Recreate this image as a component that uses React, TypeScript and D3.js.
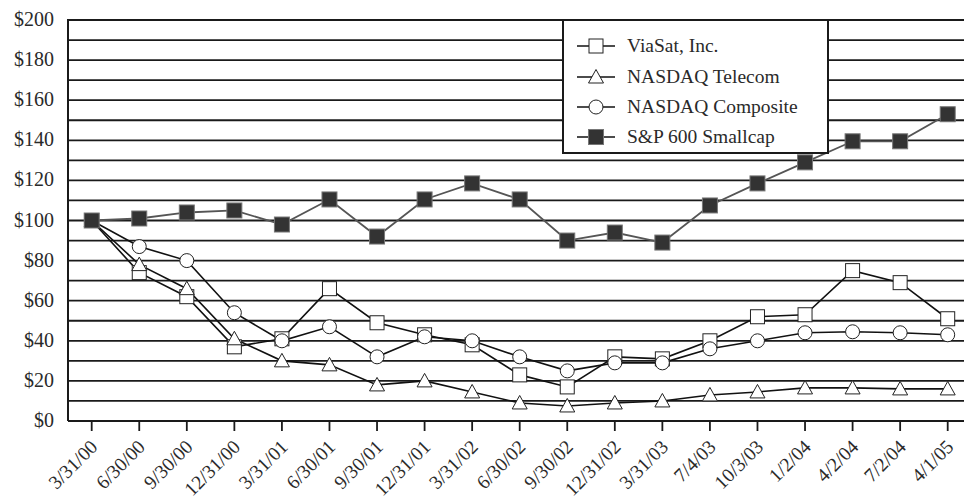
import React from "react";
import * as d3 from "d3";

const dates = ["3/31/00","6/30/00","9/30/00","12/31/00","3/31/01","6/30/01","9/30/01","12/31/01","3/31/02","6/30/02","9/30/02","12/31/02","3/31/03","7/4/03","10/3/03","1/2/04","4/2/04","7/2/04","4/1/05"];
const viasat = [100,74,62,37,41,66,49,43,38,23,17,32,31,40,52,53,75,69,51];
const telecom = [100,78,66,41,30,28,18,20,14.5,9,7.5,9,10,13,14.5,16.5,16.5,16,16];
const composite = [100,87,80,54,40,47,32,42,40,32,25,29,29,36,40,44,44.5,44,43];
const smallcap = [100,101,104,105,98,110.5,92,110.5,118.5,110.5,90,94,89,107.5,118.5,129,139.5,139.5,153];
const yTicks = [0,20,40,60,80,100,120,140,160,180,200];
const legendLabels = ["ViaSat, Inc.","NASDAQ Telecom","NASDAQ Composite","S&P 600 Smallcap"];

const W = 964, H = 502;
const left = 68, top = 20, bottom = 421;
const FONT = "Liberation Serif, DejaVu Serif, serif";
const TXT = "#2a2a2a";

function Marker({ kind, x, y }: { kind: string; x: number; y: number }) {
  if (kind === "square") return <rect x={x - 7} y={y - 7} width={14} height={14} fill="#fff" stroke="#222" strokeWidth={1} />;
  if (kind === "filled") return <rect x={x - 7.5} y={y - 7.5} width={15} height={15} fill="#333" stroke="#777" strokeWidth={1} />;
  if (kind === "circle") return <circle cx={x} cy={y} r={7} fill="#fff" stroke="#222" strokeWidth={1} />;
  const s = 7.5;
  return <path d={`M${x},${y - s}L${x + s},${y + s * 0.8}L${x - s},${y + s * 0.8}Z`} fill="#fff" stroke="#222" strokeWidth={1} />;
}

export default function App() {
  const x = d3.scalePoint<string>().domain(dates).range([91.7, 947.7]);
  const y = d3.scaleLinear().domain([0, 200]).range([bottom, top]);
  const line = d3.line<number>().x((_, i) => x(dates[i])!).y((d) => y(d));
  const grid = d3.range(10, 201, 10);
  const series = [
    { data: viasat, kind: "square", color: "#111", w: 1.6 },
    { data: telecom, kind: "triangle", color: "#111", w: 1.6 },
    { data: composite, kind: "circle", color: "#111", w: 1.6 },
    { data: smallcap, kind: "filled", color: "#555", w: 1.8 },
  ];
  const legX = 563, legY = 20, legW = 265, legH = 133;
  const rows = [46, 77, 107, 137];
  return (
    <svg width={W} height={H} style={{ position: "absolute", left: 0, top: 0, background: "#fff", fontFamily: FONT }}>
      {grid.map((g) => (
        <line key={g} x1={left} x2={W} y1={y(g)} y2={y(g)} stroke="#1a1a1a" strokeWidth={1.8} />
      ))}
      <line x1={left} x2={left} y1={top - 1} y2={bottom} stroke="#1a1a1a" strokeWidth={2} />
      <line x1={left} x2={W} y1={bottom} y2={bottom} stroke="#1a1a1a" strokeWidth={2} />
      {dates.map((d) => (
        <g key={d}>
          <line x1={x(d)} x2={x(d)} y1={bottom} y2={bottom + 10} stroke="#1a1a1a" strokeWidth={1.8} />
          <text transform={`translate(${x(d)! + 7},${bottom + 27}) rotate(-45)`} textAnchor="end" fontSize={19.5} fill={TXT} style={{ fontFamily: FONT }}>{d}</text>
        </g>
      ))}
      {yTicks.map((t) => (
        <text key={t} x={54} y={y(t) + 6} textAnchor="end" fontSize={20} fill={TXT} style={{ fontFamily: FONT }}>{"$" + t}</text>
      ))}
      {series.map((s, si) => (
        <path key={si} d={line(s.data)!} fill="none" stroke={s.color} strokeWidth={s.w} />
      ))}
      {series.map((s, si) => (
        <g key={"m" + si}>
          {s.data.map((v, i) => <Marker key={i} kind={s.kind} x={x(dates[i])!} y={y(v)} />)}
        </g>
      ))}
      <rect x={legX} y={legY} width={legW} height={legH} fill="#fff" stroke="#1a1a1a" strokeWidth={2} />
      {legendLabels.map((l, i) => (
        <g key={l}>
          <line x1={577} x2={615} y1={rows[i]} y2={rows[i]} stroke="#111" strokeWidth={1.6} />
          <Marker kind={series[i].kind} x={596} y={rows[i]} />
          <text x={627} y={rows[i] + 6} fontSize={19.5} fill={TXT} style={{ fontFamily: FONT }}>{l}</text>
        </g>
      ))}
    </svg>
  );
}
